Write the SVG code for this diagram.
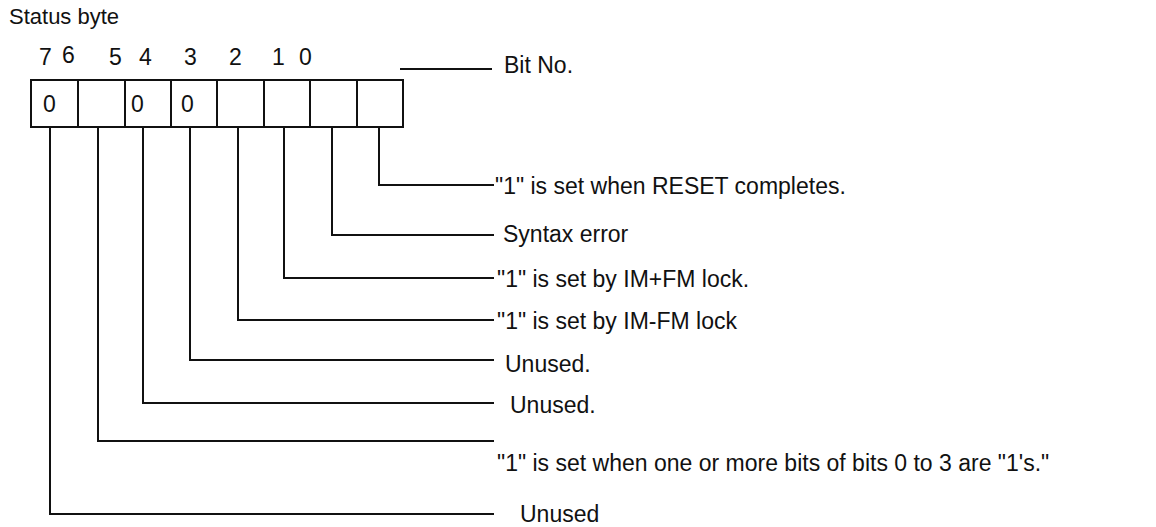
<svg xmlns="http://www.w3.org/2000/svg" width="1156" height="527" viewBox="0 0 1156 527">
<style>
text{font-family:"Liberation Sans",Arial,sans-serif;font-size:23px;fill:#111}
.ln{fill:none;stroke:#111;stroke-width:2}
</style>
<rect width="1156" height="527" fill="#fff"/>
<text x="9" y="24" style="font-size:22px">Status byte</text>
<g id="bitnumbers">
<text x="39" y="65">7</text>
<text x="62" y="63">6</text>
<text x="109" y="65">5</text>
<text x="139" y="65">4</text>
<text x="184" y="65">3</text>
<text x="229" y="65">2</text>
<text x="272" y="65">1</text>
<text x="299" y="65">0</text>
</g>
<g id="bitno">
<text x="504" y="73">Bit No.</text>
</g>
<g id="statusbyte">
<rect class="ln" x="31" y="80" width="372" height="47"/>
<path class="ln" d="M78 80V127M125 80V127M171 80V127M217 80V127M264 80V127M310 80V127M357 80V127"/>
<text x="43" y="112">0</text>
<text x="131" y="112">0</text>
<text x="181" y="112">0</text>
</g>
<g id="connectors">
<path class="ln" d="M400 69H492"/>
<path class="ln" d="M379 127V185H494"/>
<path class="ln" d="M332 127V235H494"/>
<path class="ln" d="M284 127V278H494"/>
<path class="ln" d="M238 127V320H494"/>
<path class="ln" d="M190 127V360H494"/>
<path class="ln" d="M143 127V403H494"/>
<path class="ln" d="M98 127V441H494"/>
<path class="ln" d="M50 127V514H494"/>
</g>
<g id="label0"><text x="495" y="194">"1" is set when RESET completes.</text></g>
<g id="label1"><text x="503" y="242">Syntax error</text></g>
<g id="label2"><text x="497" y="287">"1" is set by IM+FM lock.</text></g>
<g id="label3"><text x="497" y="329">"1" is set by IM-FM lock</text></g>
<g id="label4"><text x="505" y="372">Unused.</text></g>
<g id="label5"><text x="510" y="413">Unused.</text></g>
<g id="label6"><text x="497" y="471">"1" is set when one or more bits of bits 0 to 3 are "1's."</text></g>
<g id="label7"><text x="520" y="522">Unused</text></g>
</svg>
